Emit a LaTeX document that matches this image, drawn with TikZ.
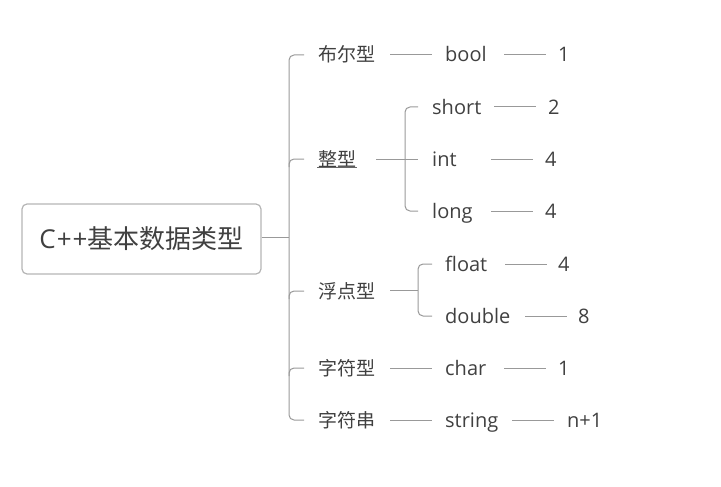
\documentclass[tikz,border=0pt]{standalone}
\usepackage{fontspec}
\setmainfont{Open Sans}
\newfontfamily\cjk{Noto Sans CJK SC}
\definecolor{txt}{HTML}{404040}
\definecolor{ln}{HTML}{999999}
\definecolor{bd}{HTML}{B5B5B5}
\begin{document}
\begin{tikzpicture}[x=1pt,y=-1pt,
  lbl/.style={anchor=base west,inner sep=0pt,text=txt,font=\fontsize{20}{24}\selectfont,yshift=-7pt},
  cj/.style={lbl,font=\fontsize{19}{24}\selectfont\cjk},
  conn/.style={draw=ln,line width=1pt},
  brk/.style={conn,rounded corners=5pt}]
\useasboundingbox (0,0) rectangle (721,487);
% root
\node[draw=bd,line width=1.2pt,rounded corners=5pt,minimum width=239pt,minimum height=70pt,text=txt,font=\fontsize{26}{30}\selectfont] (root) at (141.5,239) {C{\kern1pt}+{\kern1pt}+{\cjk 基本数据类型}};
% level 1
\node[cj] (b1) at (318,55) {布尔型};
\node[cj] (b2) at (318,159) {整型};
\node[cj] (b3) at (318,291) {浮点型};
\node[cj] (b4) at (318,368) {字符型};
\node[cj] (b5) at (318,420) {字符串};
% level 2
\node[lbl] (bool) at (445,55) {bool};
\node[lbl] (short) at (432,107) {short};
\node[lbl] (int) at (432,159) {int};
\node[lbl] (long) at (432,211) {long};
\node[lbl] (float) at (445,264) {float};
\node[lbl] (double) at (445,316) {double};
\node[lbl] (char) at (445,368) {char};
\node[lbl] (string) at (445,420) {string};
% values
\node[lbl] (v1) at (558,55) {1};
\node[lbl] (v2) at (548,107) {2};
\node[lbl] (v3) at (545,159) {4};
\node[lbl] (v4) at (545,211) {4};
\node[lbl] (v5) at (558,264) {4};
\node[lbl] (v6) at (578,316) {8};
\node[lbl] (v7) at (558,368) {1};
\node[lbl] (v8) at (567,420) {n+1};
% underline
\draw[draw=txt!80,line width=0.7pt] (317,167) -- (357,167);
% root bracket
\coordinate (m) at (289,237);
\draw[conn] (root.east |- m) -- (m);
\draw[brk] (304,55) -| (289,237) |- (304,420);
\foreach \y in {159,291,368} \draw[brk] (289,\y+8) |- (304,\y);
% leaf connectors
\draw[conn] (390,55) -- (432,55);
\draw[conn] (504,55) -- (546,55);
\draw[conn] (390,368) -- (432,368);
\draw[conn] (504,368) -- (546,368);
\draw[conn] (390,420) -- (432,420);
\draw[conn] (512,420) -- (554,420);
% int bracket
\draw[conn] (376,159) -- (418,159);
\draw[brk] (418,107) -| (405,159) |- (418,211);
\draw[conn] (494,107) -- (536,107);
\draw[conn] (491,159) -- (533,159);
\draw[conn] (491,211) -- (533,211);
% float bracket
\draw[conn] (390,290) -- (418,290);
\draw[brk] (432,264) -| (418,290) |- (432,316);
\draw[conn] (505,264) -- (547,264);
\draw[conn] (525,316) -- (567,316);
\end{tikzpicture}
\end{document}
